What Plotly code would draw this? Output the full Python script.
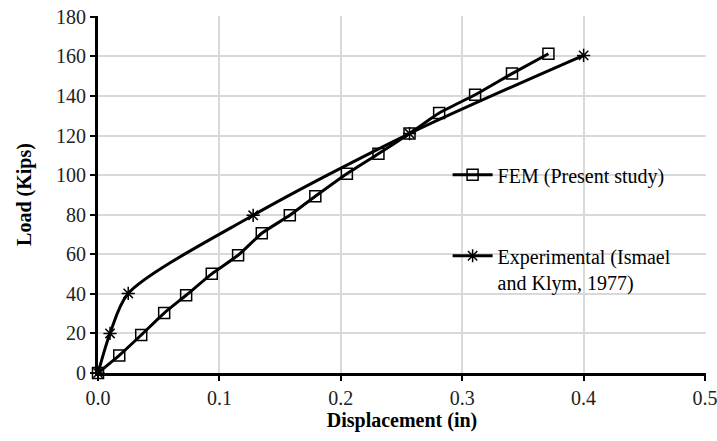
import plotly.graph_objects as go

fem_x = [0.0, 0.0175, 0.0356, 0.0545, 0.0726, 0.0937, 0.1154, 0.1349, 0.1580, 0.1790, 0.2050, 0.2310, 0.2566, 0.2810, 0.3106, 0.3410, 0.3710]
fem_y = [0, 8.9, 19.2, 30.3, 39.3, 50.1, 59.5, 70.6, 79.7, 89.3, 100.7, 110.8, 121.0, 131.4, 140.6, 151.3, 161.3]

exp_x = [0.0, 0.0099, 0.0249, 0.1278, 0.2566, 0.4000]
exp_y = [0, 20.0, 40.2, 79.7, 121.0, 160.5]

x_ticks = [0.0, 0.1, 0.2, 0.3, 0.4, 0.5]
y_ticks = [0, 20, 40, 60, 80, 100, 120, 140, 160, 180]

FONT = "Liberation Serif, Times New Roman, serif"

fig = go.Figure()
fig.add_trace(go.Scatter(
    x=fem_x, y=fem_y, mode="lines+markers", name="FEM (Present study)",
    line=dict(color="black", width=3, shape="spline", smoothing=0.5),
    marker=dict(symbol="square-open", size=11, color="black", line=dict(width=1.5)),
    cliponaxis=False, legend="legend",
))
fig.add_trace(go.Scatter(
    x=exp_x, y=exp_y, mode="lines+markers", name="Experimental (Ismael<br>and Klym, 1977)",
    line=dict(color="black", width=3, shape="spline", smoothing=0.8),
    marker=dict(symbol="asterisk-open", size=11, color="black", line=dict(width=1.5, color="black")),
    cliponaxis=False, legend="legend2",
))

axis_common = dict(
    showgrid=True, gridcolor="#d9d9d9", gridwidth=1.5,
    showline=True, linecolor="black", linewidth=3,
    ticks="outside", ticklen=5, tickwidth=2, tickcolor="black",
    tickfont=dict(family=FONT, size=20, color="#222"),
    zeroline=False, ticklabeloverflow="allow", automargin=False,
)

fig.update_layout(
    width=717, height=441,
    margin=dict(l=98, r=11, t=16, b=68),
    paper_bgcolor="white", plot_bgcolor="white",
    font=dict(family=FONT, size=20, color="black"),
    xaxis=dict(range=[0, 0.5008], tickvals=x_ticks, ticktext=[f"{v:.1f}" for v in x_ticks],
               title=dict(text="<b>Displacement (in)</b>", font=dict(family=FONT, size=20), standoff=4),
               **axis_common),
    yaxis=dict(range=[0, 180.4], tickvals=y_ticks,
               title=dict(text="<b>Load (Kips)</b>", font=dict(family=FONT, size=20), standoff=20),
               **axis_common),
    legend=dict(x=0.575, y=0.555, xanchor="left", yanchor="middle", bgcolor="rgba(0,0,0,0)",
                font=dict(family=FONT, size=20), itemwidth=40, valign="top"),
    legend2=dict(x=0.575, y=0.292, xanchor="left", yanchor="middle", bgcolor="rgba(0,0,0,0)",
                 font=dict(family=FONT, size=20), itemwidth=40, valign="top"),
    showlegend=True,
)

fig.write_html("out.html")
